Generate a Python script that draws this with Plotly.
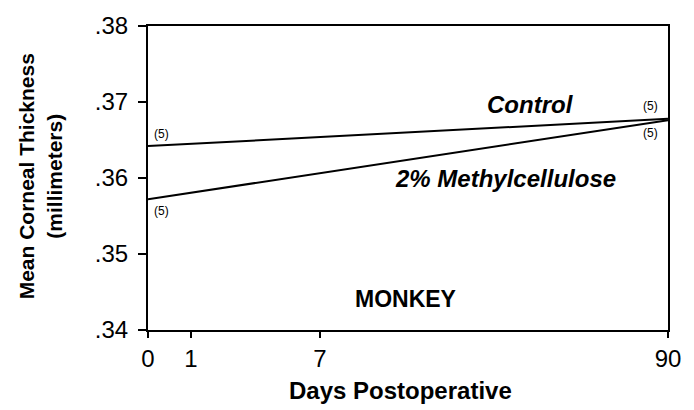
import plotly.graph_objects as go

# Data
days = [0, 90]
control = [0.3642, 0.3678]
methyl = [0.3572, 0.3676]
n_labels = ["(5)", "(5)"]
x_tick_days = [0, 1, 7, 90]
y_ticks = [0.34, 0.35, 0.36, 0.37, 0.38]
y_tick_text = [".34", ".35", ".36", ".37", ".38"]

# Non-linear day axis (as drawn in the original figure)
day_pos = {0: 0.0, 1: 43.0, 7: 172.0, 90: 520.0}
def pos(d):
    return day_pos[d]

FONT = "Liberation Sans, Arial, Helvetica, sans-serif"

fig = go.Figure()
fig.add_trace(go.Scatter(x=[pos(d) for d in days], y=control, mode="lines",
                         line=dict(color="black", width=2), showlegend=False))
fig.add_trace(go.Scatter(x=[pos(d) for d in days], y=methyl, mode="lines",
                         line=dict(color="black", width=2), showlegend=False))

small = dict(family=FONT, size=12, color="black")
ann = []
ann.append(dict(x=pos(days[0]), y=control[0], text=n_labels[0], showarrow=False,
                xanchor="left", yanchor="bottom", xshift=4, yshift=3, font=small))
ann.append(dict(x=pos(days[0]), y=methyl[0], text=n_labels[0], showarrow=False,
                xanchor="left", yanchor="top", xshift=4, yshift=-3, font=small))
ann.append(dict(x=pos(days[1]), y=control[1], text=n_labels[1], showarrow=False,
                xanchor="right", yanchor="bottom", xshift=-8, yshift=4, font=small))
ann.append(dict(x=pos(days[1]), y=methyl[1], text=n_labels[1], showarrow=False,
                xanchor="right", yanchor="top", xshift=-8, yshift=-4, font=small))
lab = dict(family=FONT, size=24, color="black")
ann.append(dict(x=382, y=0.3697, text="<b><i>Control</i></b>", showarrow=False,
                xanchor="center", yanchor="middle", font=lab))
ann.append(dict(x=357, y=0.3599, text="<b><i>2% Methylcellulose</i></b>", showarrow=False,
                xanchor="center", yanchor="middle", font=lab))
ann.append(dict(x=257, y=0.3441, text="<b>MONKEY</b>", showarrow=False,
                xanchor="center", yanchor="middle",
                font=dict(family=FONT, size=23, color="black")))
ann.append(dict(xref="paper", yref="paper", x=-0.206, y=0.505,
                text="<b>Mean Corneal Thickness<br>(millimeters)</b>", showarrow=False,
                textangle=-90, xanchor="center", yanchor="middle",
                font=dict(family=FONT, size=21, color="black")))
ann.append(dict(xref="paper", yref="paper", x=0.485, y=-0.20,
                text="<b>Days Postoperative</b>", showarrow=False,
                xanchor="center", yanchor="middle",
                font=dict(family=FONT, size=24, color="black")))

fig.update_layout(
    width=694, height=410,
    margin=dict(l=148, r=26, t=23, b=80),
    paper_bgcolor="white", plot_bgcolor="white",
    annotations=ann,
    xaxis=dict(range=[0, 520], tickvals=[pos(d) for d in x_tick_days],
               ticktext=[str(d) for d in x_tick_days],
               showgrid=False, zeroline=False, showline=True, mirror=True,
               linecolor="black", linewidth=2, ticks="outside", ticklen=6,
               tickwidth=2, tickcolor="black",
               tickfont=dict(family=FONT, size=24, color="black")),
    yaxis=dict(range=[0.34, 0.38], tickvals=y_ticks, ticktext=y_tick_text,
               showgrid=False, zeroline=False, showline=True, mirror=True,
               linecolor="black", linewidth=2, ticks="outside", ticklen=8,
               tickwidth=2, tickcolor="black", ticklabelstandoff=5,
               tickfont=dict(family=FONT, size=24, color="black")),
)

fig.write_html("out.html", config={"displayModeBar": False},
               post_script="document.body.style.margin='0';")
